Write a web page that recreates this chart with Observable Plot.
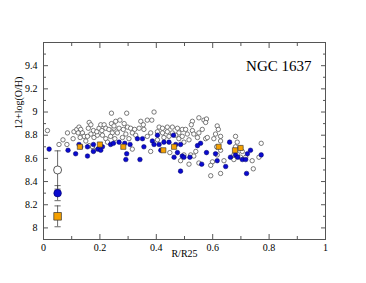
<!DOCTYPE html>
<html><head><meta charset="utf-8">
<script src="https://cdn.jsdelivr.net/npm/d3@7"></script>
<script src="https://cdn.jsdelivr.net/npm/@observablehq/plot@0.6"></script>
<style>body{margin:0;background:#fff}</style>
</head><body><div id="chart"></div>
<script>
// Open circles
const hollowR = [0.014,0.241,0.085,0.055,0.069,0.083,0.105,0.108,0.118,0.126,0.132,0.123,0.138,0.144,0.130,0.162,0.168,0.159,0.177,0.168,0.156,0.150,0.162,0.174,0.179,0.191,0.189,0.197,0.203,0.215,0.221,0.207,0.209,0.221,0.227,0.232,0.241,0.244,0.250,0.238,0.179,0.295,0.392,0.256,0.271,0.286,0.250,0.268,0.283,0.298,0.309,0.323,0.339,0.345,0.368,0.384,0.354,0.356,0.262,0.292,0.315,0.327,0.253,0.280,0.303,0.368,0.380,0.410,0.422,0.439,0.457,0.475,0.480,0.492,0.404,0.422,0.439,0.457,0.469,0.445,0.427,0.404,0.480,0.492,0.380,0.315,0.448,0.486,0.498,0.551,0.569,0.578,0.575,0.528,0.524,0.616,0.620,0.504,0.528,0.510,0.533,0.551,0.563,0.546,0.575,0.581,0.610,0.628,0.628,0.604,0.516,0.498,0.681,0.687,0.681,0.614,0.628,0.616,0.540,0.522,0.533,0.516,0.551,0.599,0.593,0.640,0.628,0.593,0.675,0.687,0.699,0.717,0.675,0.705,0.699,0.772,0.764,0.740,0.744];
const hollowOH = [8.84,8.99,8.82,8.72,8.76,8.72,8.77,8.83,8.85,8.87,8.85,8.82,8.82,8.79,8.78,8.91,8.89,8.86,8.84,8.81,8.79,8.75,8.71,8.70,8.78,8.80,8.83,8.86,8.89,8.89,8.86,8.84,8.80,8.77,8.74,8.85,8.90,8.82,8.86,8.79,8.67,8.99,9.00,8.92,8.93,8.90,8.88,8.86,8.85,8.87,8.86,8.85,8.86,8.92,8.93,8.93,8.89,8.85,8.82,8.81,8.82,8.80,8.77,8.78,8.77,8.79,8.82,8.87,8.86,8.87,8.87,8.86,8.82,8.85,8.83,8.82,8.83,8.82,8.80,8.79,8.78,8.76,8.77,8.79,8.66,8.68,8.65,8.58,8.63,8.95,8.93,8.94,8.91,8.92,8.89,8.88,8.85,8.85,8.84,8.81,8.81,8.82,8.85,8.78,8.77,8.78,8.81,8.79,8.75,8.77,8.76,8.74,8.79,8.74,8.70,8.70,8.67,8.63,8.66,8.63,8.62,8.55,8.56,8.57,8.54,8.58,8.47,8.45,8.63,8.64,8.61,8.61,8.59,8.66,8.69,8.73,8.61,8.58,8.51];
// Filled blue circles
const blueR = [0.020,0.087,0.114,0.126,0.132,0.156,0.156,0.177,0.177,0.193,0.203,0.209,0.238,0.248,0.268,0.288,0.307,0.295,0.292,0.333,0.351,0.356,0.342,0.386,0.392,0.404,0.410,0.427,0.416,0.445,0.461,0.469,0.475,0.486,0.463,0.486,0.492,0.498,0.519,0.557,0.546,0.578,0.610,0.660,0.663,0.681,0.689,0.705,0.717,0.734,0.723,0.561,0.616,0.646,0.720,0.772];
const blueOH = [8.68,8.67,8.64,8.72,8.70,8.62,8.70,8.72,8.66,8.68,8.67,8.70,8.72,8.73,8.74,8.73,8.72,8.64,8.59,8.77,8.77,8.70,8.59,8.75,8.72,8.80,8.72,8.74,8.67,8.74,8.80,8.72,8.65,8.72,8.61,8.49,8.62,8.61,8.61,8.73,8.71,8.65,8.64,8.74,8.61,8.63,8.61,8.59,8.59,8.67,8.64,8.55,8.58,8.53,8.47,8.63];
// Orange squares
const orangeR = [0.129,0.200,0.283,0.425,0.463,0.621,0.679,0.699];
const orangeOH = [8.70,8.72,8.70,8.67,8.70,8.70,8.67,8.69];
// Typical-uncertainty symbols
const errKind = ["open","blue","orange"];
const errR = [0.05,0.05,0.05];
const errOH = [8.5,8.3,8.1];
const errE = [0.165,0.065,0.09];
// Ticks
const xMajor = [0,0.2,0.4,0.6,0.8,1];
const xMinor = [0.1,0.3,0.5,0.7,0.9];
const yMajor = [8,8.2,8.4,8.6,8.8,9,9.2,9.4];
const yMinor = [7.9,8.1,8.3,8.5,8.7,8.9,9.1,9.3,9.5];
const title = "NGC 1637";
const xLabel = "R/R25";
const yLabel = "12+log(O/H)";

const hollow = hollowR.map((r,i)=>({r, oh: hollowOH[i]}));
const blue = blueR.map((r,i)=>({r, oh: blueOH[i]}));
const orange = orangeR.map((r,i)=>({r, oh: orangeOH[i]}));
const errs = errKind.map((k,i)=>({k, r: errR[i], oh: errOH[i], e: errE[i]}));
const cap = 0.011;
const tc = "#555";
const fmt = d => String(d);

const chart = Plot.plot({
  width: 366, height: 283,
  marginLeft: 43, marginRight: 41, marginTop: 42, marginBottom: 44,
  style: {fontFamily: "'Liberation Serif', serif", fontSize: "10px", background: "#fff", color: "#000"},
  x: {domain: [0, 1]},
  y: {domain: [7.9, 9.6]},
  marks: [
    Plot.frame({stroke: tc}),
    Plot.axisX(xMinor, {anchor: "bottom", tickSize: -3, fill: "none", stroke: tc}),
    Plot.axisX(xMajor, {anchor: "bottom", tickSize: -5, fill: "none", stroke: tc}),
    Plot.axisX(xMinor, {anchor: "top", tickSize: -3, fill: "none", stroke: tc}),
    Plot.axisX(xMajor, {anchor: "top", tickSize: -5, fill: "none", stroke: tc}),
    Plot.axisY(yMinor, {anchor: "left", tickSize: -3, fill: "none", stroke: tc}),
    Plot.axisY(yMajor, {anchor: "left", tickSize: -5, fill: "none", stroke: tc}),
    Plot.axisY(yMinor, {anchor: "right", tickSize: -3, fill: "none", stroke: tc}),
    Plot.axisY(yMajor, {anchor: "right", tickSize: -5, fill: "none", stroke: tc}),
    Plot.axisX(xMajor, {anchor: "bottom", tickSize: 0, tickPadding: 4, stroke: "none", label: null, tickFormat: fmt, fontVariant: "normal"}),
    Plot.axisY(yMajor, {anchor: "left", tickSize: 0, tickPadding: 6, stroke: "none", label: null, tickFormat: fmt, fontVariant: "normal"}),
    Plot.text([xLabel], {frameAnchor: "bottom", dy: 17, fontSize: 10}),
    Plot.text([yLabel], {frameAnchor: "left", rotate: -90, dx: -25, dy: -12, fontSize: 10}),
    Plot.text([title], {frameAnchor: "top-right", dx: -14, dy: 18, textAnchor: "end", fontSize: 15}),
    Plot.ruleX(errs, {x: "r", y1: d => d.oh - d.e, y2: d => d.oh + d.e, stroke: "#444", strokeWidth: 0.8}),
    Plot.link(errs, {x1: d => d.r - cap, x2: d => d.r + cap, y1: d => d.oh + d.e, y2: d => d.oh + d.e, stroke: "#444", strokeWidth: 0.8}),
    Plot.link(errs, {x1: d => d.r - cap, x2: d => d.r + cap, y1: d => d.oh - d.e, y2: d => d.oh - d.e, stroke: "#444", strokeWidth: 0.8}),
    Plot.dot(hollow, {x: "r", y: "oh", r: 2.2, fill: "white", stroke: "#444", strokeWidth: 0.7}),
    Plot.dot(blue, {x: "r", y: "oh", r: 2.3, fill: "#0a0ad0", stroke: "#000060", strokeWidth: 0.5}),
    Plot.dot(orange, {x: "r", y: "oh", r: 2.9, symbol: "square", fill: "#f5a000", stroke: "#333", strokeWidth: 0.6}),
    Plot.dot(errs.filter(d => d.k === "open"), {x: "r", y: "oh", r: 4, fill: "white", stroke: "#333", strokeWidth: 0.8}),
    Plot.dot(errs.filter(d => d.k === "blue"), {x: "r", y: "oh", r: 3.8, fill: "#0a0ad0", stroke: "#000060", strokeWidth: 0.6}),
    Plot.dot(errs.filter(d => d.k === "orange"), {x: "r", y: "oh", r: 4.3, symbol: "square", fill: "#f5a000", stroke: "#333", strokeWidth: 0.7})
  ]
});
document.getElementById("chart").append(chart);
</script>
</body></html>
